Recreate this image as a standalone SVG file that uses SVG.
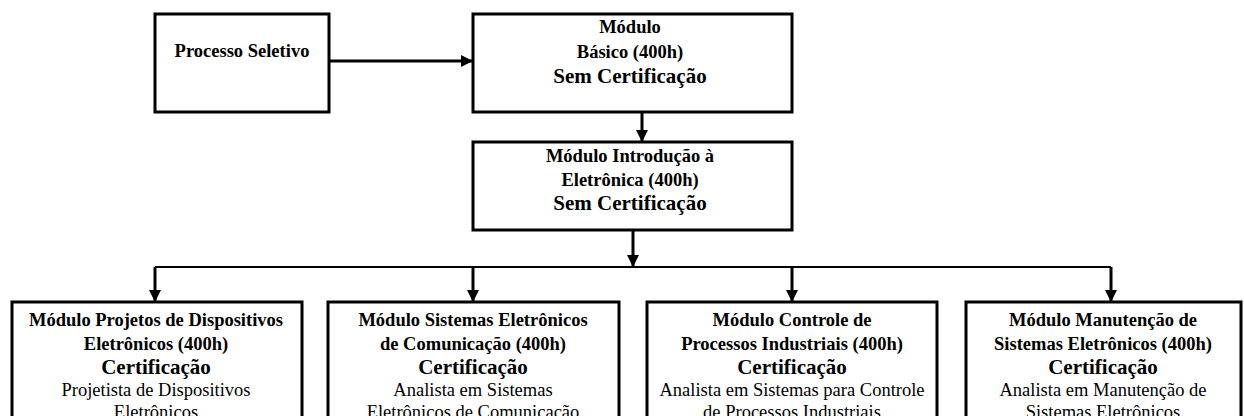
<svg xmlns="http://www.w3.org/2000/svg" width="1244" height="416" viewBox="0 0 1244 416">
<style>
.box{fill:#fff;stroke:#000;stroke-width:3}
.t{font-family:"Liberation Serif","Times New Roman",serif;font-size:18.5px;text-anchor:middle;fill:#000}
.b{font-weight:bold}
.c{font-family:"Liberation Serif","Times New Roman",serif;font-weight:bold;font-size:21px}
.ln{fill:none;stroke:#000;stroke-width:3}
.hl{fill:none;stroke:#000;stroke-width:1.8}
</style>
<defs>
<marker id="ah" viewBox="0 0 12 12" refX="12" refY="6" markerWidth="12" markerHeight="12" markerUnits="userSpaceOnUse" orient="auto">
<path d="M0,0 L12,6 L0,12 z" fill="#000"/>
</marker>
</defs>
<rect width="1244" height="416" fill="#fff"/>
<g id="connectors">
<line class="ln" x1="329" y1="61" x2="473" y2="61" marker-end="url(#ah)"/>
<line class="ln" x1="642" y1="112" x2="642" y2="142" marker-end="url(#ah)"/>
<line class="ln" x1="633" y1="230" x2="633" y2="267" marker-end="url(#ah)"/>
<line class="hl" x1="155" y1="267" x2="1111" y2="267"/>
<line class="ln" x1="155" y1="267" x2="155" y2="302" marker-end="url(#ah)"/>
<line class="ln" x1="473" y1="267" x2="473" y2="302" marker-end="url(#ah)"/>
<line class="ln" x1="792" y1="267" x2="792" y2="302" marker-end="url(#ah)"/>
<line class="ln" x1="1111" y1="267" x2="1111" y2="302" marker-end="url(#ah)"/>
</g>
<g id="processo">
<rect class="box" x="155" y="14" width="174" height="98"/>
<text class="t b" x="242" y="57">Processo Seletivo</text>
</g>
<g id="basico">
<rect class="box" x="473" y="14" width="319" height="98"/>
<text class="t b" x="630" y="33">Módulo</text>
<text class="t b" x="630" y="58">Básico (400h)</text>
<text class="t c" x="630" y="83">Sem Certificação</text>
</g>
<g id="introducao">
<rect class="box" x="473" y="142" width="319" height="88"/>
<text class="t b" x="630" y="162">Módulo Introdução à</text>
<text class="t b" x="630" y="186">Eletrônica (400h)</text>
<text class="t c" x="630" y="210">Sem Certificação</text>
</g>
<g id="projetos">
<rect class="box" x="12" y="302" width="290" height="130"/>
<text class="t b" x="156" y="326">Módulo Projetos de Dispositivos</text>
<text class="t b" x="156" y="350">Eletrônicos (400h)</text>
<text class="t c" x="156" y="374">Certificação</text>
<text class="t" x="156" y="396">Projetista de Dispositivos</text>
<text class="t" x="156" y="418">Eletrônicos</text>
</g>
<g id="comunicacao">
<rect class="box" x="328" y="302" width="291" height="130"/>
<text class="t b" x="473" y="326">Módulo Sistemas Eletrônicos</text>
<text class="t b" x="473" y="350">de Comunicação (400h)</text>
<text class="t c" x="473" y="374">Certificação</text>
<text class="t" x="473" y="396">Analista em Sistemas</text>
<text class="t" x="473" y="418">Eletrônicos de Comunicação</text>
</g>
<g id="controle">
<rect class="box" x="647" y="302" width="290" height="130"/>
<text class="t b" x="792" y="326">Módulo Controle de</text>
<text class="t b" x="792" y="350">Processos Industriais (400h)</text>
<text class="t c" x="792" y="374">Certificação</text>
<text class="t" x="792" y="396">Analista em Sistemas para Controle</text>
<text class="t" x="792" y="418">de Processos Industriais</text>
</g>
<g id="manutencao">
<rect class="box" x="966" y="302" width="275" height="130"/>
<text class="t b" x="1103" y="326">Módulo Manutenção de</text>
<text class="t b" x="1103" y="350">Sistemas Eletrônicos (400h)</text>
<text class="t c" x="1103" y="374">Certificação</text>
<text class="t" x="1103" y="396">Analista em Manutenção de</text>
<text class="t" x="1103" y="418">Sistemas Eletrônicos</text>
</g>
</svg>
